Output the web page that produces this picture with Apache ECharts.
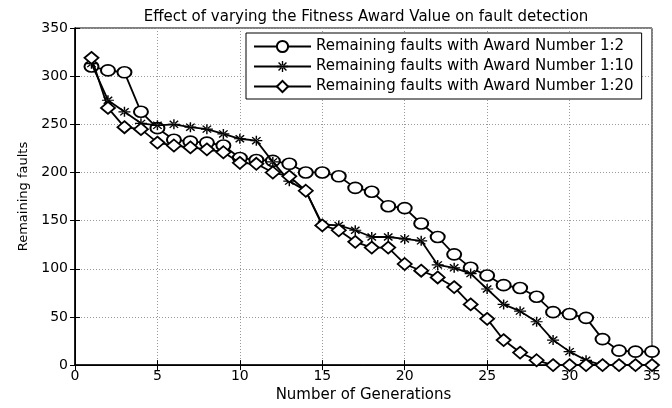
<!DOCTYPE html>
<html>
<head>
<meta charset="utf-8">
<script src="https://cdn.jsdelivr.net/npm/echarts@6/dist/echarts.min.js"></script>
<style>
html,body{margin:0;padding:0;background:#fff;}
#chart{width:672px;height:408px;}
</style>
</head>
<body>
<div id="chart"></div>
<script>
var generations = [1,2,3,4,5,6,7,8,9,10,11,12,13,14,15,16,17,18,19,20,21,22,23,24,25,26,27,28,29,30,31,32,33,34,35];
var award1_2  = [310,306,304,263,246,234,232,231,228,215,213,212,209,200,200,196,184,180,165,163,147,133,115,101,93,83,80,71,55,53,49,27,15,14,14];
var award1_10 = [313,275,263,251,249,250,247,245,240,235,233,211,191,181,146,145,140,133,133,131,129,104,101,95,79,63,56,45,26,14,5,0,0,0,0];
var award1_20 = [319,267,247,245,231,228,226,224,221,210,209,200,196,181,145,140,128,122,122,105,98,91,81,63,48,26,13,5,0,0,0,0,0,0,0];
var seriesNames = ['Remaining faults with Award Number 1:2','Remaining faults with Award Number 1:10','Remaining faults with Award Number 1:20'];
var xTicks = [0,5,10,15,20,25,30,35];
var yTicks = [0,50,100,150,200,250,300,350];

function pairs(vals){ return generations.map(function(g,i){ return [g, vals[i]]; }); }

var ellipse = 'path://M0,10 A10,10 0 1,0 20,10 A10,10 0 1,0 0,10 Z';
var asterisk = 'path://M-0.6,-5 L0.6,-5 L0.6,5 L-0.6,5 Z M-5,-0.6 L5,-0.6 L5,0.6 L-5,0.6 Z M-3.95,-3.1 L3.1,3.95 L3.95,3.1 L-3.1,-3.95 Z M3.1,-3.95 L-3.95,3.1 L-3.1,3.95 L3.95,-3.1 Z';
var rhomb = 'path://M0,-10 L10,0 L0,10 L-10,0 Z';

var font = 'DejaVu Sans, sans-serif';
var chart = echarts.init(document.getElementById('chart'), null, {renderer:'canvas'});
var gridLine = {show:true, lineStyle:{color:'#999', type:[1,2], width:1}};
var option = {
  animation:false,
  backgroundColor:'#fff',
  title:{text:'Effect of varying the Fitness Award Value on fault detection', left:361, textAlign:'center', top:5,
    textStyle:{fontFamily:font, fontSize:15, fontWeight:'normal', color:'#000'}},
  grid:{left:75, right:20, top:28, bottom:39, show:true, borderColor:'#000', borderWidth:1, backgroundColor:'#fff'},
  legend:{
    orient:'vertical', left:246, top:33, data:seriesNames,
    backgroundColor:'#fff', borderColor:'#000', borderWidth:1, borderRadius:0,
    padding:[6,8,5,7], itemGap:5, itemWidth:57, itemHeight:14,
    textStyle:{fontFamily:font, fontSize:15, lineHeight:14, color:'#000'}
  },
  xAxis:[{
    type:'value', min:0, max:35, interval:5, position:'bottom',
    name:'Number of Generations', nameLocation:'middle', nameGap:21,
    nameTextStyle:{fontFamily:font, fontSize:15, color:'#000'},
    axisLine:{show:true, lineStyle:{color:'#000', width:1.5}},
    axisTick:{show:true, inside:true, length:5, lineStyle:{color:'#000'}},
    axisLabel:{fontFamily:font, fontSize:14, color:'#000', margin:4},
    splitLine:gridLine
  },{
    type:'value', min:0, max:35, interval:5, position:'top',
    axisLine:{show:true, lineStyle:{color:'#000'}},
    axisTick:{show:true, inside:true, length:5, lineStyle:{color:'#000'}},
    axisLabel:{show:false}, splitLine:{show:false}
  }],
  yAxis:[{
    type:'value', min:0, max:350, interval:50, position:'left',
    name:'Remaining faults', nameLocation:'middle', nameGap:41, nameRotate:90,
    nameTextStyle:{fontFamily:font, fontSize:13, color:'#000'},
    axisLine:{show:true, lineStyle:{color:'#000', width:1.5}},
    axisTick:{show:true, inside:true, length:5, lineStyle:{color:'#000'}},
    axisLabel:{fontFamily:font, fontSize:14, color:'#000', margin:7},
    splitLine:gridLine
  },{
    type:'value', min:0, max:350, interval:50, position:'right',
    axisLine:{show:true, lineStyle:{color:'#000'}},
    axisTick:{show:true, inside:true, length:5, lineStyle:{color:'#000'}},
    axisLabel:{show:false}, splitLine:{show:false}
  }],
  series:[
    {name:seriesNames[0], type:'line', data:pairs(award1_2), symbol:ellipse, symbolSize:[14,11], symbolKeepAspect:false,
     lineStyle:{color:'#000', width:1.8}, itemStyle:{color:'#fff', borderColor:'#000', borderWidth:1.8}, z:3},
    {name:seriesNames[1], type:'line', data:pairs(award1_10), symbol:asterisk, symbolSize:[12,10], symbolKeepAspect:false,
     lineStyle:{color:'#000', width:1.8}, itemStyle:{color:'#000', borderColor:'#000', borderWidth:0}, z:4},
    {name:seriesNames[2], type:'line', data:pairs(award1_20), symbol:rhomb, symbolSize:[14,12], symbolKeepAspect:false,
     lineStyle:{color:'#000', width:1.8}, itemStyle:{color:'#fff', borderColor:'#000', borderWidth:1.8}, z:5}
  ]
};
chart.setOption(option);
</script>
</body>
</html>
